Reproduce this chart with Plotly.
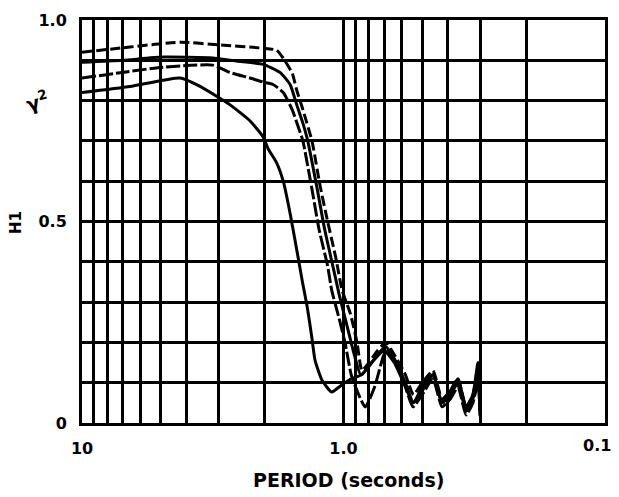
import plotly.graph_objects as go

# ---- data (period in seconds, coherence value) ----
c1_period = [10.0, 6.55, 4.22, 2.97, 2.03, 1.80, 1.70, 1.57, 1.51, 1.44, 1.38, 1.32, 1.23, 1.15, 1.07, 1.013,
             0.94, 0.888, 0.85, 0.80, 0.74, 0.69, 0.64, 0.58, 0.54, 0.50, 0.455, 0.42, 0.39, 0.365, 0.34,
             0.32, 0.306, 0.30]
c1_value = [0.92, 0.933, 0.945, 0.938, 0.93, 0.925, 0.905, 0.868, 0.826, 0.784, 0.744, 0.70, 0.59, 0.50, 0.41, 0.33,
            0.27, 0.20, 0.13, 0.15, 0.18, 0.20, 0.17, 0.12, 0.07, 0.10, 0.13, 0.06, 0.08, 0.11, 0.04,
            0.07, 0.14, 0.03]

c2_period = [10.0, 7.0, 4.9, 3.16, 2.72, 2.03, 1.75, 1.60, 1.51, 1.43, 1.37, 1.26, 1.18, 1.09, 1.04, 0.96,
             0.91, 0.86, 0.80, 0.74, 0.69, 0.64, 0.58, 0.54, 0.50, 0.455, 0.42, 0.39, 0.365, 0.34, 0.32,
             0.306, 0.30]
c2_value = [0.895, 0.90, 0.908, 0.906, 0.90, 0.89, 0.87, 0.84, 0.79, 0.744, 0.70, 0.58, 0.48, 0.38, 0.32, 0.23,
            0.17, 0.12, 0.14, 0.17, 0.19, 0.16, 0.10, 0.05, 0.09, 0.12, 0.05, 0.07, 0.10, 0.03, 0.06,
            0.12, 0.02]

c3_period = [10.0, 7.0, 4.9, 3.16, 2.72, 2.28, 2.03, 1.86, 1.70, 1.57, 1.49, 1.43, 1.32, 1.24, 1.15, 1.11,
             1.04, 0.987, 0.93, 0.826, 0.76, 0.70, 0.676, 0.62, 0.58, 0.542, 0.50, 0.455, 0.42, 0.39,
             0.365, 0.34, 0.32, 0.306, 0.30]
c3_value = [0.856, 0.87, 0.883, 0.888, 0.87, 0.856, 0.846, 0.84, 0.82, 0.777, 0.735, 0.70, 0.58, 0.48, 0.39, 0.33,
            0.26, 0.20, 0.115, 0.04, 0.09, 0.17, 0.18, 0.14, 0.09, 0.04, 0.07, 0.11, 0.04, 0.06,
            0.09, 0.02, 0.05, 0.10, 0.01]

c4_period = [10.0, 6.55, 4.22, 3.63, 2.97, 2.72, 2.28, 2.03, 1.94, 1.80, 1.70, 1.60, 1.50, 1.44, 1.37, 1.32,
             1.285, 1.21, 1.11, 1.013, 0.93, 0.85, 0.78, 0.70, 0.64, 0.58, 0.542, 0.50, 0.455, 0.42, 0.39,
             0.365, 0.34, 0.32, 0.306, 0.30]
c4_value = [0.82, 0.835, 0.856, 0.839, 0.806, 0.79, 0.75, 0.71, 0.68, 0.645, 0.60, 0.52, 0.42, 0.355, 0.28, 0.21,
            0.156, 0.107, 0.077, 0.095, 0.11, 0.12, 0.15, 0.18, 0.15, 0.09, 0.05, 0.08, 0.12, 0.05, 0.08,
            0.11, 0.04, 0.07, 0.15, 0.03]

x_grid = [10, 9, 8, 7, 6, 5, 4, 3, 2, 1, 0.9, 0.8, 0.7, 0.6, 0.5, 0.4, 0.3, 0.2, 0.1]
x_labels = {10: "10", 1: "1.0"}
y_grid = [0, 0.1, 0.2, 0.3, 0.4, 0.5, 0.6, 0.7, 0.8, 0.9, 1.0]
y_labels = {0: "0", 0.5: "0.5", 1.0: "1.0"}

series = [
    (c1_period, c1_value, "10px,4px"),
    (c2_period, c2_value, "solid"),
    (c3_period, c3_value, "14px,3px"),
    (c4_period, c4_value, "solid"),
]

fig = go.Figure()
for px_, val, dash in series:
    fig.add_trace(go.Scatter(x=px_, y=val, mode="lines",
                             line=dict(color="black", width=3, dash=dash, shape="spline", smoothing=0.5),
                             showlegend=False, hoverinfo="skip"))

tick_font = dict(family="DejaVu Sans", size=16, color="black", weight="bold")

fig.update_layout(
    width=619, height=497,
    margin=dict(l=82, r=14, t=20, b=74),
    paper_bgcolor="white", plot_bgcolor="white",
    font=dict(family="DejaVu Sans", color="black"),
    xaxis=dict(type="log", range=[1, -1], autorange=False,
               tickvals=x_grid, ticktext=[x_labels.get(v, "") for v in x_grid],
               showgrid=True, gridcolor="black", gridwidth=3,
               showline=True, linecolor="black", linewidth=3, mirror=True,
               ticks="", tickfont=tick_font, ticklabelstandoff=9, zeroline=False,
               automargin=False),
    yaxis=dict(range=[0, 1], autorange=False,
               tickvals=y_grid, ticktext=[y_labels.get(v, "") for v in y_grid],
               showgrid=True, gridcolor="black", gridwidth=3,
               showline=True, linecolor="black", linewidth=3, mirror=True,
               ticks="", tickfont=tick_font, ticklabelstandoff=9, zeroline=False,
               automargin=False),
)

# 0.1 label (placed as annotation so it is not clipped at the right edge)
fig.add_annotation(x=-1, y=0, xref="x", yref="paper", text="0.1", showarrow=False,
                   xanchor="center", yanchor="top", xshift=-8, yshift=-11, font=tick_font)

# pixel-placed labels, converted to paper coordinates below
fig.add_annotation(x=348, y=480, xref="paper", yref="paper", text="PERIOD (seconds)",
                   showarrow=False, font=dict(family="DejaVu Sans", size=19, color="black", weight="bold"))
fig.add_annotation(x=16, y=223, xref="paper", yref="paper", text="H1", showarrow=False,
                   textangle=-90, font=dict(family="DejaVu Sans", size=15, color="black", weight="bold"))
fig.add_annotation(x=37, y=101, xref="paper", yref="paper", text="γ<sup>2</sup>", showarrow=False,
                   textangle=-15, font=dict(family="DejaVu Sans", size=19, color="black", weight="bold"))

W, H = 619, 497
l, r, t, b = 82, 14, 20, 74
pw, ph = W - l - r, H - t - b
for ann in fig.layout.annotations[1:]:
    ann.x = (ann.x - l) / pw
    ann.y = (H - b - ann.y) / ph
    ann.xanchor = "center"
    ann.yanchor = "middle"

fig.write_html("out.html")
